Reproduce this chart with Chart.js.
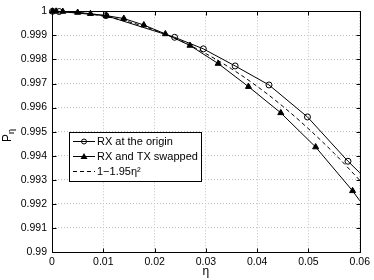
<!DOCTYPE html>
<html>
<head>
<meta charset="utf-8">
<script src="https://cdn.jsdelivr.net/npm/chart.js@4.4.0/dist/chart.umd.min.js"></script>
<style>
html,body{margin:0;padding:0;background:#fff;}
#wrap{width:374px;height:280px;position:relative;}
</style>
</head>
<body>
<div id="wrap"><canvas id="c" width="374" height="280"></canvas></div>
<script>
// ---- data ----
const etaOrigin = [0.0001, 0.0014, 0.0105, 0.0239, 0.0295, 0.0357, 0.0423, 0.0498, 0.0577, 0.0600];
const pOrigin   = [1.00000, 0.99999, 0.99982, 0.99892, 0.99844, 0.99773, 0.99694, 0.99561, 0.99377, 0.99329];
const markOrigin = [1, 1, 1, 1, 1, 1, 1, 1, 1, 0];

const etaSwap = [0.0001, 0.0008, 0.0021, 0.0050, 0.0075, 0.0106, 0.0140, 0.0179, 0.0221, 0.0269, 0.0324, 0.0383, 0.0446, 0.0514, 0.0586, 0.0600];
const pSwap   = [1.00000, 1.00000, 0.99999, 0.99995, 0.99990, 0.99982, 0.99970, 0.99943, 0.99906, 0.99858, 0.99783, 0.99687, 0.99578, 0.99436, 0.99254, 0.99213];
const markSwap = [1, 1, 1, 1, 1, 1, 1, 1, 1, 1, 1, 1, 1, 1, 1, 0];

const etaFit = [0, 0.005, 0.010, 0.015, 0.020, 0.025, 0.030, 0.035, 0.040, 0.045, 0.050, 0.055, 0.060];
const pFit   = [1.00000, 0.99995, 0.99980, 0.99956, 0.99922, 0.99878, 0.99824, 0.99761, 0.99688, 0.99605, 0.99512, 0.99410, 0.99298];

const xTicks = [0, 0.01, 0.02, 0.03, 0.04, 0.05, 0.06];
const yTicks = [0.99, 0.991, 0.992, 0.993, 0.994, 0.995, 0.996, 0.997, 0.998, 0.999, 1];
const legendLabels = ['RX at the origin', 'RX and TX swapped', '1\u22121.95\u03b7\u00b2'];

const FONT = "'Liberation Sans', Arial, sans-serif";

function pts(xs, ys){ return xs.map((v,i)=>({x:v, y:ys[i]})); }

const framePlugin = {
  id: 'frame',
  afterDraw(chart){
    const {ctx, chartArea:a, scales:{x, y}} = chart;
    ctx.save();
    ctx.strokeStyle = '#000';
    ctx.lineWidth = 1;
    const L = Math.round(a.left)+0.5, R = Math.round(a.right)+0.5, T = Math.round(a.top)+0.5, B = Math.round(a.bottom)+0.5;
    ctx.beginPath();
    ctx.rect(L, T, R-L, B-T);
    ctx.stroke();
    const tl = 4;
    ctx.beginPath();
    xTicks.forEach(v=>{
      const p = Math.round(x.getPixelForValue(v))+0.5;
      ctx.moveTo(p, B); ctx.lineTo(p, B-tl);
      ctx.moveTo(p, T); ctx.lineTo(p, T+tl);
    });
    yTicks.forEach(v=>{
      const p = Math.round(y.getPixelForValue(v))+0.5;
      ctx.moveTo(L, p); ctx.lineTo(L+tl, p);
      ctx.moveTo(R, p); ctx.lineTo(R-tl, p);
    });
    ctx.stroke();

    // legend box
    const bx = 69.5, by = 132.5, bw = 132, bh = 49;
    ctx.fillStyle = '#fff';
    ctx.fillRect(bx, by, bw, bh);
    ctx.strokeRect(bx, by, bw, bh);
    const rows = [141, 156, 171];
    ctx.font = '11px ' + FONT;
    ctx.textBaseline = 'middle';
    ctx.fillStyle = '#000';
    rows.forEach((ry, i)=>{
      ctx.beginPath();
      ctx.lineWidth = 1;
      if (i === 2) ctx.setLineDash([4,3]); else ctx.setLineDash([]);
      ctx.moveTo(73, ry+0.5); ctx.lineTo(95, ry+0.5);
      ctx.stroke();
      ctx.setLineDash([]);
      if (i === 0){
        ctx.beginPath(); ctx.arc(84, ry+0.5, 2.5, 0, Math.PI*2); ctx.stroke();
      } else if (i === 1){
        ctx.beginPath();
        ctx.moveTo(84, ry-3); ctx.lineTo(87.5, ry+3); ctx.lineTo(80.5, ry+3); ctx.closePath();
        ctx.fill();
      }
      ctx.fillText(legendLabels[i], 97, ry+1);
    });

    // axis titles
    ctx.font = '12px ' + FONT;
    ctx.textAlign = 'center';
    ctx.textBaseline = 'alphabetic';
    ctx.fillText('\u03b7', (a.left+a.right)/2, 275);
    ctx.save();
    ctx.translate(11, 142);
    ctx.rotate(-Math.PI/2);
    ctx.textAlign = 'left';
    ctx.font = '12px ' + FONT;
    ctx.fillText('P', 0, 0);
    ctx.font = '9px ' + FONT;
    ctx.fillText('\u03b7', 8, 3);
    ctx.restore();
    ctx.restore();
  }
};

new Chart(document.getElementById('c'), {
  type: 'line',
  data: {
    datasets: [
      {
        label: legendLabels[0],
        data: pts(etaOrigin, pOrigin),
        borderColor: '#000', borderWidth: 1,
        pointStyle: 'circle',
        pointRadius: markOrigin.map(m=>m?3:0),
        pointBorderColor: '#000', pointBackgroundColor: 'rgba(0,0,0,0)', pointBorderWidth: 1,
        tension: 0, clip: false
      },
      {
        label: legendLabels[1],
        data: pts(etaSwap, pSwap),
        borderColor: '#000', borderWidth: 1,
        pointStyle: 'triangle',
        pointRadius: markSwap.map(m=>m?3.5:0),
        pointBorderColor: '#000', pointBackgroundColor: '#000', pointBorderWidth: 1,
        tension: 0, clip: false
      },
      {
        label: legendLabels[2],
        data: pts(etaFit, pFit),
        borderColor: '#000', borderWidth: 1, borderDash: [4,3],
        pointRadius: 0, tension: 0.4, cubicInterpolationMode: 'monotone', clip: false
      }
    ]
  },
  options: {
    responsive: false,
    animation: false,
    devicePixelRatio: 1,
    layout: { padding: { left: 0, right: 13, top: 8, bottom: 0 } },
    plugins: { legend: { display: false }, tooltip: { enabled: false } },
    scales: {
      x: {
        type: 'linear', min: 0, max: 0.06,
        afterBuildTicks(s){ s.ticks = xTicks.map(v=>({value:v})); },
        afterFit(s){ s.height = 28; },
        ticks: { color: '#000', font: { family: FONT, size: 10.5 }, padding: 4,
          callback: v => (v === 0 ? '0' : String(+v.toFixed(2))), maxRotation: 0 },
        grid: { color: '#c0c0c0', lineWidth: 1, drawTicks: false },
        border: { display: false, dash: [1,2] }
      },
      y: {
        type: 'linear', min: 0.99, max: 1,
        afterBuildTicks(s){ s.ticks = yTicks.map(v=>({value:v})); },
        afterFit(s){ s.width = 52; },
        ticks: { color: '#000', font: { family: FONT, size: 10.5 }, padding: 5,
          callback: v => (v === 1 ? '1' : String(+v.toFixed(3))) },
        grid: { color: '#c0c0c0', lineWidth: 1, drawTicks: false },
        border: { display: false, dash: [1,2] }
      }
    }
  },
  plugins: [framePlugin]
});
</script>
</body>
</html>
